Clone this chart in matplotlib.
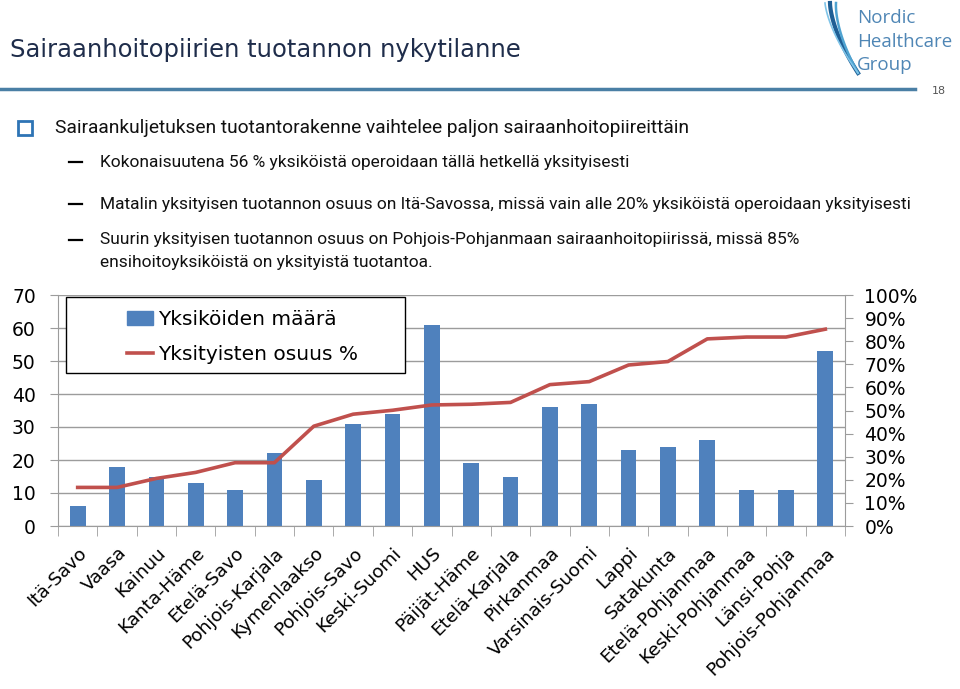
import matplotlib.pyplot as plt
import matplotlib.patches as mpatches
from matplotlib.lines import Line2D
import numpy as np

# --- data ---
regions = ['Itä-Savo', 'Vaasa', 'Kainuu', 'Kanta-Häme', 'Etelä-Savo', 'Pohjois-Karjala',
           'Kymenlaakso', 'Pohjois-Savo', 'Keski-Suomi', 'HUS', 'Päijät-Häme', 'Etelä-Karjala',
           'Pirkanmaa', 'Varsinais-Suomi', 'Lappi', 'Satakunta', 'Etelä-Pohjanmaa',
           'Keski-Pohjanmaa', 'Länsi-Pohja', 'Pohjois-Pohjanmaa']
units = [6, 18, 15, 13, 11, 22, 14, 31, 34, 61, 19, 15, 36, 37, 23, 24, 26, 11, 11, 53]
private_share = [0.167, 0.167, 0.206, 0.232, 0.274, 0.274, 0.432, 0.484, 0.501, 0.524,
                 0.527, 0.535, 0.612, 0.625, 0.697, 0.712, 0.810, 0.818, 0.818, 0.852]
left_ticks = [0, 10, 20, 30, 40, 50, 60, 70]
right_ticks = [0, 0.1, 0.2, 0.3, 0.4, 0.5, 0.6, 0.7, 0.8, 0.9, 1.0]

bar_color = '#4F81BD'
line_color = '#C0504D'
grid_color = '#9C9C9C'
W, H = 960, 689

def fx(x):
    return x / W

def fy(y):
    return 1 - y / H

fig = plt.figure(figsize=(9.6, 6.89), dpi=100)
fig.patch.set_facecolor('white')

# --- slide header ---
fig.text(fx(10), fy(50), 'Sairaanhoitopiirien tuotannon nykytilanne', fontsize=17.5,
         color='#1F2D4B', va='center', ha='left', family='DejaVu Sans')
fig.add_artist(Line2D([0, fx(915)], [fy(89), fy(89)], color='#4A7FA5', lw=2.5))
fig.text(fx(932), fy(91), '18', fontsize=8, color='#555555', va='center', ha='left')

# logo
for off, lw, col in [(0, 3.0, '#1F5F95'), (6, 1.8, '#4FA3D1'), (-5, 1.2, '#7FC4E8')]:
    t = np.linspace(0, 1, 50)
    xs = 830 + off * (1 - t) + 28 * t ** 1.6
    ys = 3 + 70 * t
    fig.add_artist(Line2D(fx(xs), fy(ys), color=col, lw=lw))
for txt, yy in [('Nordic', 18), ('Healthcare', 42), ('Group', 65)]:
    fig.text(fx(857), fy(yy), txt, fontsize=13.5, color='#4F86B5', va='center', ha='left',
             family='Open Sans')

# bullets
fig.add_artist(Line2D([fx(25)], [fy(128)], marker='s', markersize=10, markerfacecolor='white',
                      markeredgecolor='#2E74B5', markeredgewidth=2, linestyle='none'))
fig.text(fx(55), fy(128), 'Sairaankuljetuksen tuotantorakenne vaihtelee paljon sairaanhoitopiireittäin',
         fontsize=13.8, va='center', ha='left', family='Roboto', color='#111111')
subs = [(162, 'Kokonaisuutena 56 % yksiköistä operoidaan tällä hetkellä yksityisesti'),
        (204, 'Matalin yksityisen tuotannon osuus on Itä-Savossa, missä vain alle 20% yksiköistä operoidaan yksityisesti'),
        (240, 'Suurin yksityisen tuotannon osuus on Pohjois-Pohjanmaan sairaanhoitopiirissä, missä 85%')]
for yy, txt in subs:
    fig.add_artist(Line2D([fx(69), fx(82)], [fy(yy), fy(yy)], color='black', lw=1.6))
    fig.text(fx(100), fy(yy), txt, fontsize=12.5, va='center', ha='left', family='Roboto', color='#111111')
fig.text(fx(100), fy(263), 'ensihoitoyksiköistä on yksityistä tuotantoa.', fontsize=12.5,
         va='center', ha='left', family='Roboto', color='#111111')

# --- chart ---
ax = fig.add_axes([fx(58), fy(526), fx(845) - fx(58), fy(295) - fy(526)])
x = np.arange(len(regions))
ax.bar(x, units, width=0.4, color=bar_color, zorder=2)
ax.set_xlim(-0.5, len(regions) - 0.5)
ax.set_ylim(0, 70)
ax.set_yticks(left_ticks)
ax.yaxis.grid(True, color=grid_color, lw=1)
ax.set_axisbelow(True)
for s in ['top', 'right']:
    ax.spines[s].set_visible(False)
for s in ['left', 'bottom']:
    ax.spines[s].set_color(grid_color)
ax.tick_params(axis='y', length=6, color=grid_color, labelsize=13.5, pad=10)
ax.set_xticks(x)
ax.set_xticklabels(regions, rotation=45, ha='right', va='top', rotation_mode='anchor', fontsize=13.2)
ax.tick_params(axis='x', length=0, pad=13)
ax.set_xticks(np.arange(len(regions) + 1) - 0.5, minor=True)
ax.tick_params(axis='x', which='minor', length=7, color=grid_color)

ax2 = ax.twinx()
ax2.plot(x, private_share, color=line_color, lw=2.6, zorder=3)
ax2.set_ylim(0, 1)
ax2.set_yticks(right_ticks)
ax2.set_yticklabels([f'{int(round(v * 100))}%' for v in right_ticks])
for s in ['top', 'left', 'bottom']:
    ax2.spines[s].set_visible(False)
ax2.spines['right'].set_color(grid_color)
ax2.tick_params(axis='y', length=6, color=grid_color, labelsize=13.5, pad=8)

# legend with separate box
fig.add_artist(mpatches.Rectangle((fx(66), fy(373)), fx(405) - fx(66), fy(297) - fy(373),
                                  transform=fig.transFigure, facecolor='white',
                                  edgecolor='black', lw=1, zorder=5))
handles = [mpatches.Patch(color=bar_color, label='Yksiköiden määrä'),
           Line2D([], [], color=line_color, lw=2.6, label='Yksityisten osuus %')]
leg = fig.legend(handles=handles, loc='center left', bbox_to_anchor=(fx(127), fy(337)),
                 frameon=False, fontsize=14.5, handlelength=1.3, handletextpad=0.25,
                 labelspacing=0.8, borderpad=0, borderaxespad=0)
leg.set_zorder(6)

fig.savefig('out.png', dpi=100)
